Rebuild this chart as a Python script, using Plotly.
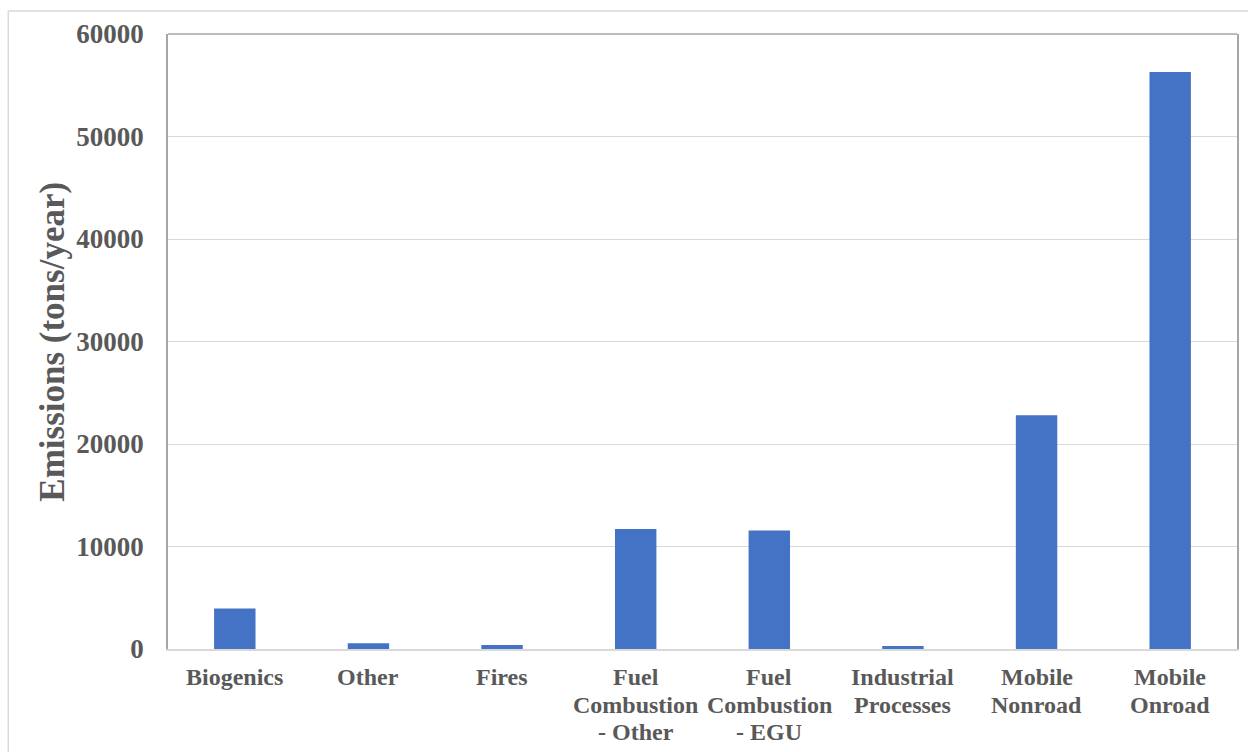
import plotly.graph_objects as go

# Annual emissions by source sector (tons/year)
categories = [
    "Biogenics",
    "Other",
    "Fires",
    "Fuel Combustion - Other",
    "Fuel Combustion - EGU",
    "Industrial Processes",
    "Mobile Nonroad",
    "Mobile Onroad",
]
# Wrapped axis labels, one list of lines per category
label_lines = [
    ["Biogenics"],
    ["Other"],
    ["Fires"],
    ["Fuel", "Combustion", "- Other"],
    ["Fuel", "Combustion", "- EGU"],
    ["Industrial", "Processes"],
    ["Mobile", "Nonroad"],
    ["Mobile", "Onroad"],
]
emissions = [3950, 550, 380, 11700, 11550, 290, 22800, 56300]
y_ticks = [0, 10000, 20000, 30000, 40000, 50000, 60000]

FONT = "Liberation Serif"
TEXT = "#595959"
BAR = "#4472C4"

W, H = 1248, 752
ML, MR, MT, MB = 168, 9, 34, 103
PW, PH = W - ML - MR, H - MT - MB


def px_x(px):
    return (px - ML) / PW


def px_y(py):
    return (H - MB - py) / PH


fig = go.Figure(
    go.Bar(
        x=categories,
        y=emissions,
        marker=dict(color=BAR, line=dict(width=0)),
        width=0.31,
    )
)

annotations = []
for cat, lines in zip(categories, label_lines):
    for i, line in enumerate(lines):
        annotations.append(
            dict(
                x=cat, xref="x", y=0, yref="paper",
                yanchor="top", xanchor="center",
                yshift=-13 - 27.5 * i,
                text=f"<b>{line}</b>", showarrow=False,
                font=dict(family=FONT, size=24, color=TEXT),
            )
        )

# y-axis title
annotations.append(
    dict(
        x=px_x(52), xref="paper", y=0.5, yref="paper",
        xanchor="center", yanchor="middle", textangle=-90,
        text="<b>Emissions (tons/year)</b>", showarrow=False,
        font=dict(family=FONT, size=35, color=TEXT),
    )
)

shapes = [
    # outer chart frame
    dict(type="rect", xref="paper", yref="paper",
         x0=px_x(8), x1=px_x(1262), y0=px_y(770), y1=px_y(11),
         line=dict(color="#d9d9d9", width=1.5), fillcolor="rgba(0,0,0,0)",
         layer="below"),
    # top edge of plot area
    dict(type="line", xref="paper", yref="paper",
         x0=0, x1=1, y0=1, y1=1,
         line=dict(color="#a6a6a6", width=1.5)),
]

fig.update_layout(
    width=W, height=H,
    margin=dict(l=ML, r=MR, t=MT, b=MB),
    paper_bgcolor="white", plot_bgcolor="white",
    showlegend=False,
    annotations=annotations,
    shapes=shapes,
    xaxis=dict(
        type="category",
        showticklabels=False,
        showgrid=False,
        showline=True, linecolor="#d9d9d9", linewidth=1.5,
        ticks="",
    ),
    yaxis=dict(
        range=[0, 60000],
        tickvals=y_ticks,
        ticktext=[f"<b>{v}</b>" for v in y_ticks],
        tickfont=dict(family=FONT, size=27, color=TEXT),
        ticklabelstandoff=17,
        showgrid=True, gridcolor="#d9d9d9", gridwidth=1,
        showline=True, linecolor="#a6a6a6", linewidth=1.5, mirror=True,
        zeroline=False,
        ticks="",
    ),
)

fig.write_html("out.html")
